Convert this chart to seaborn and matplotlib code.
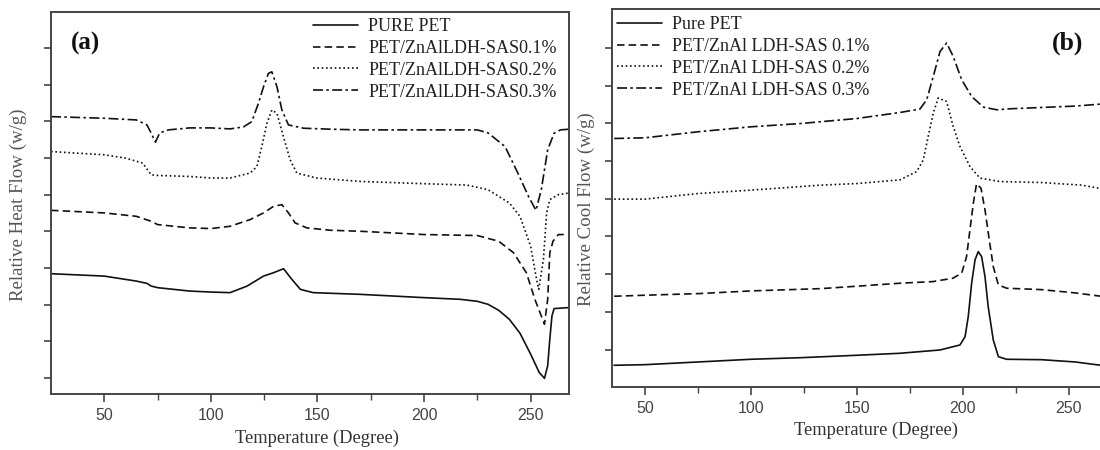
import numpy as np
import pandas as pd
import matplotlib
matplotlib.use("Agg")
import matplotlib.pyplot as plt
import seaborn as sns

# ---------------- data: panel (a) heating ----------------
a_pure_T = [25, 50, 65, 70, 72, 75, 90, 100, 109, 117, 124.7, 129.4, 134.1, 138, 142, 148, 170, 200, 217, 225, 230, 235, 240, 245, 250, 254, 256.5, 258, 259, 260, 261, 268]
a_pure_v = [12.07, 11.83, 11.33, 11.1, 10.83, 10.67, 10.33, 10.23, 10.17, 10.83, 11.83, 12.17, 12.57, 11.5, 10.5, 10.17, 10.0, 9.67, 9.5, 9.3, 9.0, 8.4, 7.5, 6.1, 4.0, 2.17, 1.57, 2.83, 5.5, 7.83, 8.57, 8.67]

a_01_T = [25, 50, 65, 72, 75, 90, 100, 109, 118.4, 124.7, 129.4, 133.3, 136.4, 139.5, 145, 156, 170, 200, 225, 235, 242, 248, 252, 255, 256.5, 258, 259, 260.5, 263, 268]
a_01_v = [18.43, 18.17, 17.83, 17.33, 17.0, 16.67, 16.6, 16.83, 17.5, 18.17, 18.83, 19.0, 18.17, 17.17, 16.67, 16.43, 16.33, 16.0, 15.9, 15.33, 14.17, 12.17, 9.5, 7.83, 7.0, 9.5, 14.17, 15.33, 16.0, 16.0]

a_02_T = [25, 50, 60, 68, 72, 75, 90, 100, 109, 118.4, 121.6, 123.9, 126.3, 128.6, 131, 134, 137.2, 140.3, 149.7, 170, 200, 220, 230, 240, 245, 250, 252.5, 253.8, 256, 257.5, 259, 263, 268]
a_02_v = [24.33, 24.0, 23.67, 23.17, 22.0, 21.93, 21.83, 21.67, 21.67, 22.17, 22.83, 24.83, 27.17, 28.5, 28.17, 25.83, 23.5, 22.17, 21.67, 21.33, 21.1, 20.97, 20.5, 19.17, 17.83, 14.83, 11.83, 10.5, 13.5, 18.17, 19.5, 20.0, 20.17]

a_03_T = [25, 50, 65, 70, 72, 74, 76, 80, 90, 100, 109, 115.3, 119.2, 122.3, 124.7, 127, 128.6, 131, 133.3, 136.4, 143.4, 156, 170, 200, 225, 230, 238, 244, 249, 252.5, 255, 258, 261, 264, 268]
a_03_v = [27.83, 27.67, 27.5, 27.0, 26.17, 25.27, 26.2, 26.5, 26.7, 26.7, 26.6, 26.8, 27.33, 29.17, 30.83, 32.17, 32.33, 30.83, 28.5, 27.0, 26.67, 26.57, 26.5, 26.5, 26.5, 26.2, 24.83, 22.17, 19.83, 18.43, 20.5, 24.5, 26.17, 26.5, 26.57]

# ---------------- data: panel (b) cooling ----------------
b_pure_T = [35.5, 50, 75, 100, 123.6, 150, 170.3, 189.2, 198.6, 201, 202.5, 204.1, 205.7, 207.2, 208.8, 210.4, 211.9, 214.3, 216.7, 220.6, 237, 253, 265]
b_pure_v = [2.17, 2.23, 2.5, 2.77, 2.93, 3.17, 3.37, 3.7, 4.2, 5.03, 7.03, 10.37, 12.7, 13.53, 13.03, 11.03, 8.03, 4.7, 3.03, 2.77, 2.73, 2.5, 2.17]

b_01_T = [35.5, 50, 75, 100, 133, 150, 170.3, 185.8, 195.3, 199.4, 201.7, 203.3, 204.9, 206.4, 208.5, 210.4, 212.4, 214.3, 216.7, 220.6, 237, 253, 265]
b_01_v = [9.07, 9.17, 9.33, 9.6, 9.83, 10.07, 10.37, 10.53, 10.87, 11.37, 13.03, 15.7, 18.37, 20.3, 19.87, 17.7, 14.7, 12.03, 10.2, 9.87, 9.73, 9.4, 9.07]

b_02_T = [35.5, 50, 75, 100, 133, 150, 170.3, 178.2, 181.3, 183.6, 186, 188.3, 192.3, 195.4, 198.6, 203.3, 208, 217.5, 237, 256, 265]
b_02_v = [18.77, 18.77, 19.33, 19.67, 20.17, 20.33, 20.7, 21.53, 22.7, 25.03, 27.37, 28.87, 28.53, 26.03, 24.03, 22.03, 20.87, 20.53, 20.43, 20.17, 19.83]

b_03_T = [35.5, 50, 75, 100, 123.6, 150, 170.3, 179.7, 182.9, 186, 189.2, 192.3, 195.4, 199.4, 204.1, 209.6, 215.9, 222.2, 237, 253, 265]
b_03_v = [24.83, 24.9, 25.5, 26.0, 26.33, 26.83, 27.43, 27.77, 28.7, 31.03, 33.53, 34.37, 33.03, 30.7, 29.03, 27.97, 27.7, 27.8, 27.93, 28.07, 28.27]

labels_a = ["PURE PET", "PET/ZnAlLDH-SAS0.1%", "PET/ZnAlLDH-SAS0.2%", "PET/ZnAlLDH-SAS0.3%"]
labels_b = ["Pure PET", "PET/ZnAl LDH-SAS 0.1%", "PET/ZnAl LDH-SAS 0.2%", "PET/ZnAl LDH-SAS 0.3%"]
xticks_major = [50, 100, 150, 200, 250]
xticks_minor = [75, 125, 175, 225]

# ---------------- style ----------------
sns.set_style("ticks")
plt.rcParams["font.family"] = ["Liberation Sans", "DejaVu Sans"]

SERIF = ["Liberation Serif", "DejaVu Serif"]
styles = ["-", (0, (4.5, 2.5)), (0, (1, 1.6)), (0, (6, 2, 1.5, 2))]
INK = "#111111"
SPINE = "#444444"

fig = plt.figure(figsize=(11, 4.5), dpi=100)
W, H = 1100, 450
ax_a = fig.add_axes([51 / W, (H - 394) / H, 518 / W, 382 / H])
ax_b = fig.add_axes([612 / W, (H - 387) / H, 489 / W, 378 / H])

series_a = [(a_pure_T, a_pure_v), (a_01_T, a_01_v), (a_02_T, a_02_v), (a_03_T, a_03_v)]
series_b = [(b_pure_T, b_pure_v), (b_01_T, b_01_v), (b_02_T, b_02_v), (b_03_T, b_03_v)]


def draw(ax, series, labels):
    for (T, v), lab, ls in zip(series, labels, styles):
        df = pd.DataFrame({"T": T, "v": v})
        sns.lineplot(data=df, x="T", y="v", ax=ax, color=INK, lw=1.2,
                     linestyle=ls, label=lab, estimator=None, sort=False)


draw(ax_a, series_a, labels_a)
draw(ax_b, series_b, labels_b)

ax_a.set_xlim(25, 268)
ax_a.set_ylim(0, 38.33)
ax_a.set_yticks(1.6 + 3.68 * np.arange(10))
ax_b.set_xlim(34.5, 265.1)
ax_b.set_ylim(0, 37.77)
ax_b.set_yticks(3.73 + 3.77 * np.arange(9))

for ax, ylab in [(ax_a, "Relative Heat Flow (w/g)"), (ax_b, "Relative Cool Flow (w/g)")]:
    ax.set_xticks(xticks_major)
    ax.set_xticks(xticks_minor, minor=True)
    ax.set_yticklabels([])
    ax.tick_params(axis="x", which="major", direction="out", length=6, width=1.2,
                   colors=SPINE, labelsize=11.5, labelcolor="#444444", pad=4)
    ax.tick_params(axis="x", which="minor", direction="out", length=4, width=1.0, colors=SPINE)
    ax.tick_params(axis="y", direction="out", length=5, width=1.2, colors=SPINE)
    for s in ax.spines.values():
        s.set_color(SPINE)
        s.set_linewidth(1.4)
    ax.set_xlabel("Temperature (Degree)", family=SERIF, fontsize=13.3, color="#333333")
    ax.set_ylabel(ylab, family=SERIF, fontsize=13.6, color="#555555")

ax_a.xaxis.set_label_coords((317 - 51) / 518, -(438 - 394) / 382)
ax_b.xaxis.set_label_coords((876 - 612) / 489, -(430 - 387) / 378)
ax_a.yaxis.set_label_coords((18 - 51) / 518, 1 - (205 - 12) / 382)
ax_b.yaxis.set_label_coords((586 - 612) / 489, 1 - (209 - 9) / 378)
for ax in (ax_a, ax_b):
    ax.xaxis.label.set_va("center")
    ax.yaxis.label.set_va("center")

# legends
leg_kw = dict(bbox_transform=fig.transFigure, frameon=False, borderpad=0,
              borderaxespad=0, handlelength=2.5, handletextpad=0.55,
              labelspacing=0.27, prop={"family": SERIF, "size": 13})
leg_a = ax_a.legend(loc="upper left", bbox_to_anchor=(313 / W, 1 - 18 / H), **leg_kw)
leg_b = ax_b.legend(loc="upper left", bbox_to_anchor=(617 / W, 1 - 16 / H), **leg_kw)
for leg in (leg_a, leg_b):
    for t in leg.get_texts():
        t.set_color("#222222")

# panel labels
fig.text(71 / W, 1 - 43 / H, "(a)", family=SERIF, fontsize=18, fontweight="bold",
         va="center", ha="left", color="#111111")
fig.text(1052 / W, 1 - 43 / H, "(b)", family=SERIF, fontsize=18.5, fontweight="bold",
         va="center", ha="left", color="#111111")

fig.savefig("out.png", dpi=100)
